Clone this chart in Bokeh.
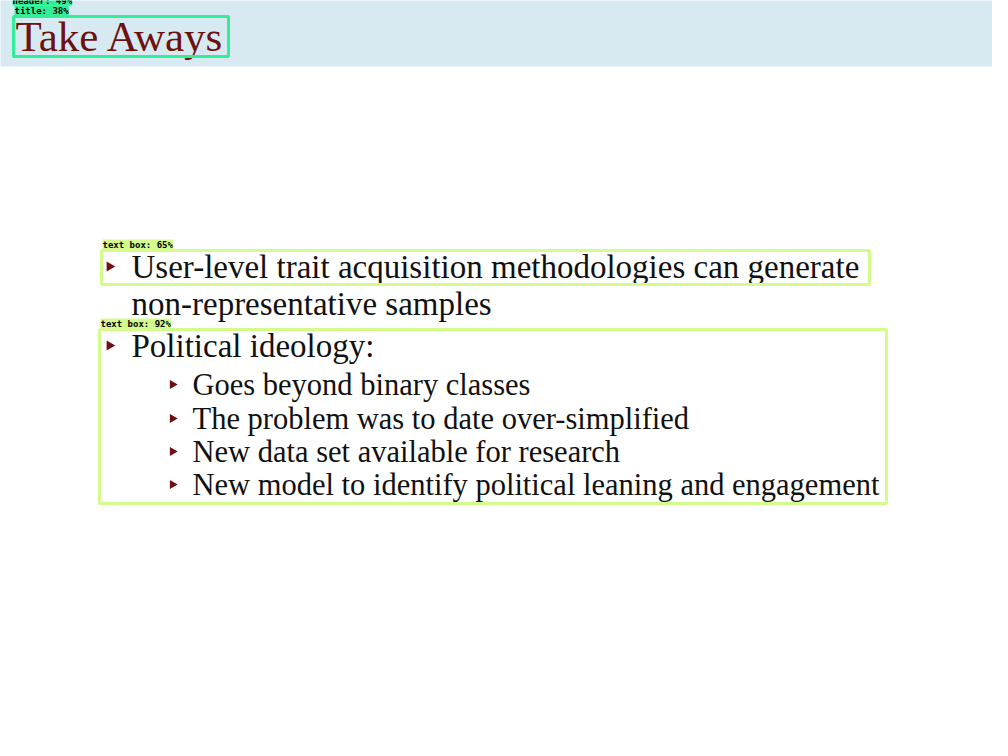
from bokeh.plotting import figure
from bokeh.models import Range1d
from bokeh.core.properties import value
from bokeh.embed import file_html
from bokeh.resources import INLINE

# slide content
title = "Take Aways"
bullets = [
    "User-level trait acquisition methodologies can generate",
    "non-representative samples",
    "Political ideology:",
]
bullet_y = [274, 311, 353]
bullet_mark = [True, False, True]
sub_bullets = [
    "Goes beyond binary classes",
    "The problem was to date over-simplified",
    "New data set available for research",
    "New model to identify political leaning and engagement",
]
sub_y = [392, 426, 459, 492]

# detection boxes: label, left, top, right, bottom
box_labels = ["title: 38%", "text box: 65%", "text box: 92%"]
box_left = [21, 109, 107]
box_top = [24, 258, 337]
box_right = [236, 877, 894]
box_bottom = [64, 292, 511]
box_colors = ["#33ee99", "#d4fc8c", "#d4fc8c"]

p = figure(width=992, height=740, output_backend="svg", toolbar_location=None,
           x_range=Range1d(8, 1000), y_range=Range1d(748, 8), min_border=0)
p.axis.visible = False
p.grid.visible = False
p.outline_line_color = None

# header band
p.quad(left=[0], right=[1008], top=[0], bottom=[74], fill_color="#d7eaf1", line_color=None)

serif = value("Liberation Serif")
p.text(x=[23], y=[44], text=[title], text_font=serif, text_font_size="43px",
       text_color="#6e1010", text_baseline="middle")

p.text(x=[139] * len(bullets), y=bullet_y, text=bullets, text_font=serif,
       text_font_size="33px", text_color="#111111", text_baseline="middle")
p.scatter(x=[117 for m in bullet_mark if m],
          y=[yy for yy, m in zip(bullet_y, bullet_mark) if m],
          marker="triangle", angle=-1.5708, size=10, fill_color="#6e1010", line_color=None)

p.text(x=[200] * len(sub_bullets), y=sub_y, text=sub_bullets, text_font=serif,
       text_font_size="30.5px", text_color="#111111", text_baseline="middle")
p.scatter(x=[180] * len(sub_y), y=sub_y, marker="triangle", angle=-1.5708, size=9,
          fill_color="#6e1010", line_color=None)

# boxes
p.quad(left=box_left, right=box_right, top=box_top, bottom=box_bottom,
       fill_color=None, line_color=box_colors, line_width=3)

mono = value("DejaVu Sans Mono")
p.text(x=[20], y=[3], text=["header: 49%"], text_font=mono, text_font_style="bold",
       text_font_size="9px", text_color="black", text_baseline="top",
       background_fill_color="#33ee99")
p.text(x=[b + 1 for b in box_left], y=[t - 1 for t in box_top], text=box_labels,
       text_font=mono, text_font_style="bold", text_font_size="9px", text_color="black",
       text_baseline="bottom", background_fill_color=box_colors)

open("out.html", "w").write(file_html(p, INLINE))
